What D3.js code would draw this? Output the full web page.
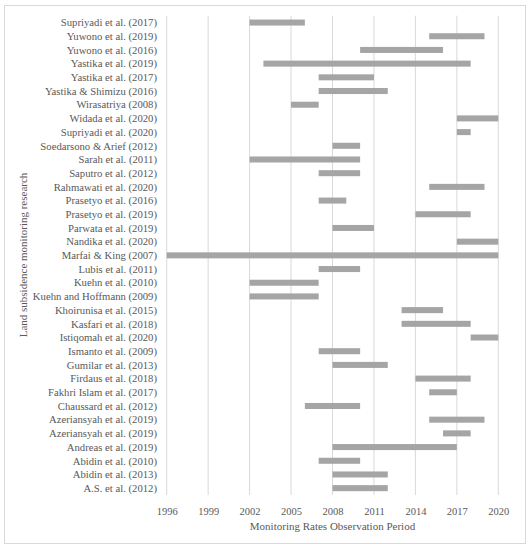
<!DOCTYPE html>
<html><head><meta charset="utf-8">
<script src="https://cdn.jsdelivr.net/npm/d3@7"></script>
<style>body{margin:0;background:#fff}svg{display:block}</style>
</head><body>
<svg id="c" width="531" height="550"></svg>
<script>
const studies = ["Supriyadi et al. (2017)","Yuwono et al. (2019)","Yuwono et al. (2016)","Yastika et al. (2019)","Yastika et al. (2017)","Yastika & Shimizu (2016)","Wirasatriya (2008)","Widada et al. (2020)","Supriyadi et al. (2020)","Soedarsono & Arief (2012)","Sarah et al. (2011)","Saputro et al. (2012)","Rahmawati et al. (2020)","Prasetyo et al. (2016)","Prasetyo et al. (2019)","Parwata et al. (2019)","Nandika et al. (2020)","Marfai & King (2007)","Lubis et al. (2011)","Kuehn et al. (2010)","Kuehn and Hoffmann (2009)","Khoirunisa et al. (2015)","Kasfari et al. (2018)","Istiqomah et al. (2020)","Ismanto et al. (2009)","Gumilar et al. (2013)","Firdaus et al. (2018)","Fakhri Islam et al. (2017)","Chaussard et al. (2012)","Azeriansyah et al. (2019)","Azeriansyah et al. (2019)","Andreas et al. (2019)","Abidin et al. (2010)","Abidin et al. (2013)","A.S. et al. (2012)"];
const startYears = [2002,2015,2010,2003,2007,2007,2005,2017,2017,2008,2002,2007,2015,2007,2014,2008,2017,1996,2007,2002,2002,2013,2013,2018,2007,2008,2014,2015,2006,2015,2016,2008,2007,2008,2008];
const endYears   = [2006,2019,2016,2018,2011,2012,2007,2020,2018,2010,2010,2010,2019,2009,2018,2011,2020,2020,2010,2007,2007,2016,2018,2020,2010,2012,2018,2017,2010,2019,2018,2017,2010,2012,2012];
const tickYears = [1996,1999,2002,2005,2008,2011,2014,2017,2020];

const font = "'Liberation Serif', 'DejaVu Serif', serif";
const txt = "#595959";
const svg = d3.select("#c");
svg.append("rect").attr("x",4.5).attr("y",5.5).attr("width",521).attr("height",538)
  .attr("fill","#fff").attr("stroke","#d9d9d9");

const L = 166.7, R = 498.3, T = 15.7, B = 495;
const x = d3.scaleLinear().domain([1996,2020]).range([L,R]);
const idx = studies.map((d,i)=>i);
const y = d3.scaleBand().domain(idx).range([T,B]).paddingInner(0.56).paddingOuter(0.28);

const rows = idx.map(i=>({i, name:studies[i], s:startYears[i], e:endYears[i]}));

// gridlines
svg.append("g").selectAll("line").data(tickYears).join("line")
  .attr("x1",d=>x(d)).attr("x2",d=>x(d)).attr("y1",T).attr("y2",B)
  .attr("stroke","#d9d9d9").attr("stroke-width",1);

// bars
svg.append("g").selectAll("rect").data(rows).join("rect")
  .attr("x",d=>x(d.s)).attr("width",d=>x(d.e)-x(d.s))
  .attr("y",d=>y(d.i)).attr("height",y.bandwidth())
  .attr("fill","#a5a5a5");

// y labels
const yb = d3.scaleBand().domain(idx).range([T,B]);
svg.append("g").selectAll("text").data(rows).join("text")
  .attr("x",157).attr("y",d=>yb(d.i)+yb.bandwidth()/2)
  .attr("dy","0.35em").attr("text-anchor","end")
  .attr("font-family",font).attr("font-size",10.7).attr("fill",txt)
  .text(d=>d.name);

// x axis
const xa = svg.append("g").attr("transform",`translate(0,${B})`)
  .call(d3.axisBottom(x).tickValues(tickYears).tickFormat(d3.format("d")).tickSize(0).tickPadding(13));
xa.select(".domain").remove();
xa.selectAll("text").attr("font-family",font).attr("font-size",10.5).attr("fill",txt);

svg.append("text").attr("x",(L+R)/2).attr("y",530).attr("text-anchor","middle")
  .attr("font-family",font).attr("font-size",11).attr("fill",txt)
  .text("Monitoring Rates Observation Period");

svg.append("text").attr("transform",`translate(27,255) rotate(-90)`).attr("text-anchor","middle")
  .attr("font-family",font).attr("font-size",11).attr("fill",txt)
  .text("Land subsidence monitoring research");
</script>
</body></html>
